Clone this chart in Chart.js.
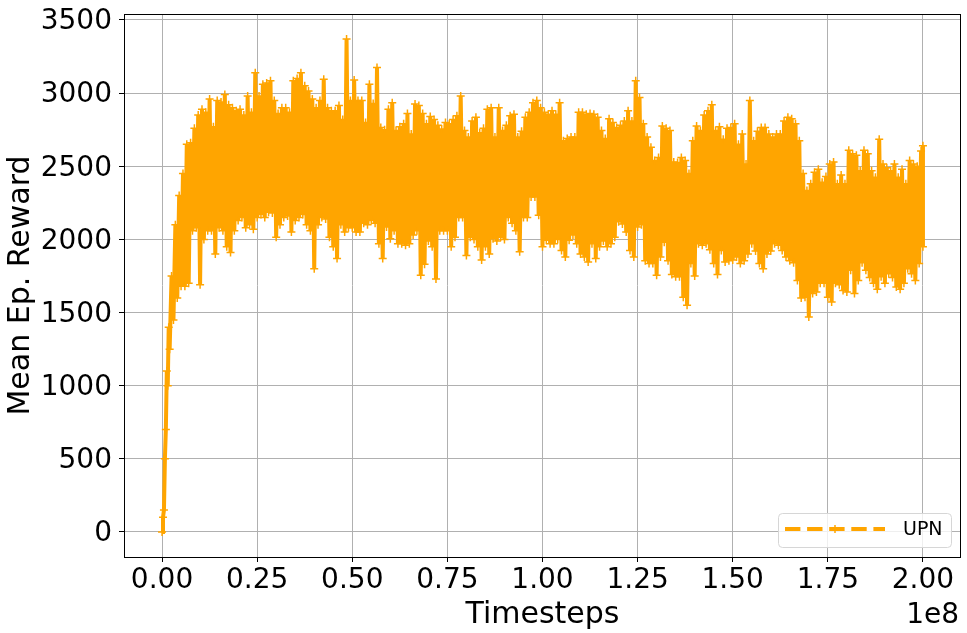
<!DOCTYPE html>
<html>
<head>
<meta charset="utf-8">
<script src="https://cdn.jsdelivr.net/npm/chart.js@4.4.1/dist/chart.umd.min.js"></script>
<style>
  html, body { margin: 0; padding: 0; background: #fff; }
  #chart { display: block; }
</style>
</head>
<body>
<canvas id="chart" width="967" height="633"></canvas>
<script>
// timesteps (millions) where the band was read, with its top and bottom
const stepsM = [0, 0.5, 1, 1.5, 2, 3, 4, 5, 6,
  7, 8, 9, 10, 11, 12, 13, 14, 15, 16,
  17, 18, 19, 20, 21, 22, 23, 24, 25, 26,
  27, 28, 29, 30, 31, 32, 33, 34, 35, 36,
  37, 38, 39, 40, 41, 42, 43, 44, 45, 46,
  47, 48, 49, 50, 51, 52, 53, 54, 55, 56,
  57, 58, 59, 60, 61, 62, 63, 64, 65, 66,
  67, 68, 69, 70, 71, 72, 73, 74, 75, 76,
  77, 78, 79, 80, 81, 82, 83, 84, 85, 86,
  87, 88, 89, 90, 91, 92, 93, 94, 95, 96,
  97, 98, 99, 100, 101, 102, 103, 104, 105, 106,
  107, 108, 109, 110, 111, 112, 113, 114, 115, 116,
  117, 118, 119, 120, 121, 122, 123, 124, 125, 126,
  127, 128, 129, 130, 131, 132, 133, 134, 135, 136,
  137, 138, 139, 140, 141, 142, 143, 144, 145, 146,
  147, 148, 149, 150, 151, 152, 153, 154, 155, 156,
  157, 158, 159, 160, 161, 162, 163, 164, 165, 166,
  167, 168, 169, 170, 171, 172, 173, 174, 175, 176,
  177, 178, 179, 180, 181, 182, 183, 184, 185, 186,
  187, 188, 189, 190, 191, 192, 193, 194, 195, 196,
  197, 198, 199, 200];

const hiVals = [100, 500, 1100, 1400, 1750, 2100, 2300, 2450, 2650,
  2660, 2760, 2850, 2890, 2870, 2960, 2770, 2950, 2940, 2990,
  2920, 2900, 2880, 2890, 2850, 2980, 2870, 3140, 2980, 3060,
  3070, 3085, 2950, 2860, 2900, 2900, 2870, 3085, 3100, 3140,
  3050, 3015, 2960, 2900, 2950, 3095, 2900, 2880, 2880, 2915,
  2820, 3370, 2950, 3090, 2950, 2950, 2800, 3060, 2930, 3175,
  2765, 2750, 2890, 2935, 2745, 2770, 2790, 2860, 2720, 2925,
  2915, 2860, 2790, 2840, 2820, 2780, 2755, 2800, 2790, 2820,
  2845, 2980, 2745, 2700, 2810, 2835, 2730, 2760, 2890, 2900,
  2700, 2900, 2745, 2780, 2845, 2855, 2700, 2740, 2835, 2870,
  2935, 2950, 2900, 2870, 2855, 2880, 2855, 2935, 2675, 2690,
  2700, 2700, 2870, 2870, 2855, 2860, 2855, 2835, 2745, 2690,
  2825, 2800, 2765, 2780, 2810, 2880, 2810, 3085, 2970, 2790,
  2700, 2630, 2540, 2560, 2775, 2760, 2745, 2530, 2525, 2560,
  2540, 2450, 2675, 2775, 2745, 2850, 2880, 2920, 2745, 2770,
  2685, 2760, 2765, 2790, 2650, 2720, 2515, 2950, 2675, 2740,
  2765, 2765, 2720, 2700, 2720, 2720, 2810, 2835, 2825, 2790,
  2675, 2450, 2335, 2380, 2460, 2480, 2390, 2430, 2515, 2530,
  2380, 2440, 2380, 2610, 2585, 2575, 2470, 2610, 2585, 2470,
  2425, 2685, 2515, 2490, 2470, 2515, 2425, 2480, 2380, 2540,
  2515, 2500, 2605, 2640];

const loVals = [0, 150, 700, 1000, 1250, 1450, 1600, 1680, 1680,
  1700, 2060, 2080, 1690, 2000, 2060, 2060, 1900, 2080, 2060,
  1950, 1910, 2060, 2130, 2150, 2080, 2100, 2070, 2150, 2170,
  2150, 2185, 2180, 2015, 2100, 2150, 2160, 2050, 2130, 2150,
  2170, 2100, 2060, 1800, 2100, 2150, 2140, 2015, 1950, 1870,
  2100, 2050, 2080, 2080, 2050, 2050, 2110, 2100, 2130, 2110,
  1970, 1870, 2085, 2005, 2060, 1970, 1970, 1960, 1970, 2030,
  2060, 1755, 1830, 1990, 1950, 1730, 2060, 2060, 2060, 1950,
  2015, 2150, 2150, 1890, 2015, 2000, 1950, 1860, 1950, 1900,
  2005, 1990, 2015, 2000, 2150, 2110, 2060, 1915, 2150, 2150,
  2290, 2290, 2165, 1950, 1995, 1970, 1970, 2000, 1925, 1880,
  1995, 2030, 1970, 1900, 1880, 1845, 1970, 1870, 1950, 1990,
  1950, 1970, 2015, 2120, 2105, 2050, 1925, 1880, 2085, 2100,
  1855, 1835, 1835, 1755, 1880, 1980, 1855, 1760, 1745, 1745,
  1605, 1550, 1835, 1750, 1970, 1960, 1970, 1930, 1835, 1760,
  1925, 1845, 1855, 1860, 1880, 1835, 1855, 1900, 1970, 1920,
  1835, 1800, 1900, 1920, 1970, 1960, 1925, 1880, 1855, 1840,
  1720, 1600, 1605, 1470, 1630, 1640, 1700, 1700, 1605, 1573,
  1700, 1690, 1650, 1640, 1790, 1630, 1720, 1840, 1790, 1740,
  1700, 1660, 1745, 1700, 1765, 1740, 1675, 1660, 1700, 1800,
  1765, 1720, 1835, 1950];

const xTicks = [0, 25e6, 50e6, 75e6, 100e6, 125e6, 150e6, 175e6, 200e6];
const yTicks = [0, 500, 1000, 1500, 2000, 2500, 3000, 3500];
const seriesName = 'UPN';

const FONT = 'DejaVu Sans';
const ORANGE = '#ffa500';

// zigzag bottom -> top so the noisy run shows as a filled band
function buildPoints() {
  const pts = [];
  for (let i = 0; i < stepsM.length; i++) {
    const t = stepsM[i];
    const next = i < stepsM.length - 1 ? stepsM[i + 1] : t;
    pts.push({ x: t * 1e6, y: loVals[i] });
    pts.push({ x: (t + next) / 2 * 1e6, y: hiVals[i] });
  }
  return pts;
}

const framePlugin = {
  id: 'frame',
  afterDatasetsDraw(chart) {
    const { ctx, chartArea: a } = chart;
    ctx.save();
    ctx.strokeStyle = '#000';
    ctx.lineWidth = 1;
    ctx.strokeRect(a.left + 0.5, a.top + 0.5, a.right - a.left - 1, a.bottom - a.top);
    ctx.restore();
  }
};

const offsetPlugin = {
  id: 'offsetText',
  afterDraw(chart) {
    const { ctx, chartArea: a } = chart;
    ctx.save();
    ctx.fillStyle = '#000';
    ctx.font = '28px "' + FONT + '"';
    ctx.textAlign = 'right';
    ctx.textBaseline = 'middle';
    ctx.fillText('1e8', a.right - 2, 616);
    ctx.restore();
  }
};

const legendPlugin = {
  id: 'legendBox',
  afterDraw(chart) {
    const { ctx, chartArea: a } = chart;
    const w = 173, h = 34;
    const x = a.right - 10 - w, y = a.bottom - 10 - h;
    ctx.save();
    ctx.beginPath();
    ctx.roundRect(x + 0.5, y + 0.5, w, h, 4);
    ctx.fillStyle = 'rgba(255,255,255,0.8)';
    ctx.fill();
    ctx.strokeStyle = '#d6d6d6';
    ctx.lineWidth = 1;
    ctx.stroke();

    const ly = y + 16;
    ctx.beginPath();
    ctx.setLineDash([15.4, 6.7]);
    ctx.moveTo(x + 7, ly);
    ctx.lineTo(x + 107, ly);
    ctx.strokeStyle = ORANGE;
    ctx.lineWidth = 4.2;
    ctx.stroke();
    ctx.setLineDash([]);
    const mx = x + 57;
    ctx.beginPath();
    ctx.moveTo(mx - 4, ly); ctx.lineTo(mx + 4, ly);
    ctx.moveTo(mx, ly - 4); ctx.lineTo(mx, ly + 4);
    ctx.lineWidth = 1.5;
    ctx.stroke();

    ctx.fillStyle = '#000';
    ctx.font = '19px "' + FONT + '"';
    ctx.textAlign = 'left';
    ctx.textBaseline = 'middle';
    ctx.fillText(seriesName, x + 125, ly + 1);
    ctx.restore();
  }
};

new Chart(document.getElementById('chart'), {
  type: 'line',
  data: {
    datasets: [{
      label: seriesName,
      data: buildPoints(),
      borderColor: ORANGE,
      borderWidth: 4,
      tension: 0,
      fill: false,
      pointStyle: 'cross',
      pointRadius: 4,
      pointBorderColor: ORANGE,
      pointBorderWidth: 1.5,
      pointBackgroundColor: ORANGE
    }]
  },
  options: {
    responsive: false,
    animation: false,
    devicePixelRatio: 1,
    layout: { padding: { top: 14, right: 6, left: 0, bottom: 0 } },
    plugins: { legend: { display: false }, tooltip: { enabled: false } },
    scales: {
      x: {
        type: 'linear',
        min: -10e6,
        max: 210e6,
        afterBuildTicks: s => { s.ticks = xTicks.map(v => ({ value: v })); },
        afterFit: s => { s.height = 76; s.paddingLeft = 0; s.paddingRight = 0; },
        grid: { color: '#b0b0b0', lineWidth: 1, tickColor: '#000', tickLength: 5 },
        border: { display: false },
        ticks: {
          font: { family: FONT, size: 28, lineHeight: 1 },
          color: '#000',
          padding: 5,
          maxRotation: 0,
          autoSkip: false,
          callback: v => (v / 1e8).toFixed(2)
        },
        title: {
          display: true,
          text: 'Timesteps',
          color: '#000',
          font: { family: FONT, size: 30 },
          padding: { top: 0, bottom: 0 }
        }
      },
      y: {
        type: 'linear',
        min: -171,
        max: 3541,
        afterBuildTicks: s => { s.ticks = yTicks.map(v => ({ value: v })); },
        afterFit: s => { s.width = 124; s.paddingTop = 0; s.paddingBottom = 0; },
        grid: { color: '#b0b0b0', lineWidth: 1, tickColor: '#000', tickLength: 5 },
        border: { display: false },
        ticks: {
          font: { family: FONT, size: 28 },
          color: '#000',
          padding: 7,
          labelOffset: 2,
          callback: v => String(v)
        },
        title: {
          display: true,
          text: 'Mean Ep. Reward',
          color: '#000',
          font: { family: FONT, size: 30 },
          padding: { top: 3, bottom: 0 }
        }
      }
    }
  },
  plugins: [framePlugin, offsetPlugin, legendPlugin]
});
</script>
</body>
</html>
